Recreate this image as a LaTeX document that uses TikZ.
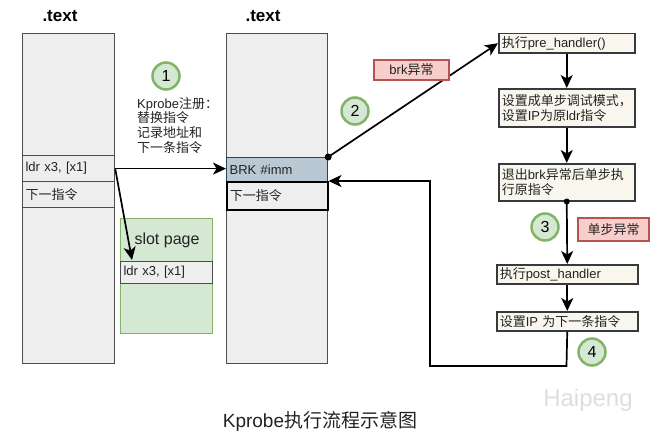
\documentclass[tikz,border=0pt]{standalone}
\usepackage{fontspec}
\setmainfont{Liberation Sans}
\newfontfamily\cjk{Noto Sans CJK SC}
\usetikzlibrary{arrows.meta}
\newcommand\zh[1]{{\cjk #1}}
\definecolor{colfill}{HTML}{EEEEEE}
\definecolor{colstroke}{HTML}{4D4D4D}
\definecolor{grnfill}{HTML}{D5E8D4}
\definecolor{grnstroke}{HTML}{82B366}
\definecolor{redfill}{HTML}{F8CECC}
\definecolor{redstroke}{HTML}{B85450}
\definecolor{brkfill}{HTML}{BAC8D3}
\definecolor{brkstroke}{HTML}{23445D}
\definecolor{boxfill}{HTML}{F9F7ED}
\definecolor{boxstroke}{HTML}{36393D}
\definecolor{textc}{HTML}{222222}
\begin{document}
\begin{tikzpicture}[x=1pt,y=-1pt,
  small/.style={font=\fontsize{13}{14.7}\selectfont, text=textc},
  col/.style={draw=colstroke, fill=colfill, line width=1.2pt, anchor=north west, inner sep=0pt},
  cell/.style={col, align=left, inner xsep=3pt, inner ysep=0pt, small},
  rbox/.style={draw=boxstroke, fill=boxfill, line width=1.5pt, anchor=north west, align=left, inner xsep=3pt, inner ysep=0pt, small},
  tag/.style={draw=redstroke, fill=redfill, line width=1.2pt, inner sep=0pt, small},
  num/.style={circle, draw=grnstroke, fill=grnfill, line width=2.5pt, minimum size=27pt, inner sep=0pt, font=\fontsize{16}{18}\selectfont},
  arr/.style={line width=1.7pt, -{Stealth[length=13pt,width=12pt,inset=3.5pt]}},
  ttl/.style={font=\bfseries\fontsize{17}{20}\selectfont}
]
\useasboundingbox (0,0) rectangle (668,436);

% column titles
\node[ttl] (t1) at (60,16) {.text};
\node[ttl] (t2) at (263,16) {.text};

% left column
\node[col, minimum width=92pt, minimum height=330pt] (lcol) at (22,33) {};
\node[cell, minimum height=26pt, text width=86pt] (lldr) at (22,155) {ldr x3, [x1]};
\node[cell, minimum height=26pt, text width=86pt] (lnext) at (22,181) {\zh{下一指令}};

% middle column
\node[col, minimum width=101pt, minimum height=330pt] (mcol) at (226,33) {};
\node[cell, draw=brkstroke, fill=brkfill, minimum height=24pt, text width=95pt] (mbrk) at (226,157) {BRK \#imm};
\node[cell, draw=black, line width=1.5pt, minimum height=28pt, text width=95pt] (mnext) at (226,181) {\zh{下一指令}};

% slot page
\node[draw=grnstroke, fill=grnfill, line width=1.2pt, anchor=north west, minimum width=92pt, minimum height=115pt, inner sep=0pt] (slot) at (120,218) {};
\node[font=\fontsize{16}{18}\selectfont, text=textc] (slottxt) at (167,240) {slot page};
\node[cell, minimum height=22pt, text width=86pt] (sldr) at (120,261) {ldr x3, [x1]};

% step 1
\node[num] (n1) at (166,76) {1};
\node[small, anchor=north west, align=left, inner sep=0pt] (reg) at (137,97) {Kprobe\zh{注册：}\\\zh{替换指令}\\\zh{记录地址和}\\\zh{下一条指令}};

\coordinate (stip) at (132,260);
\draw[arr] (lldr.east) -- (lldr.east -| mbrk.west);
\draw[arr] (lldr.east) -- (stip);

% right flow
\node[rbox, minimum height=19pt, text width=130pt] (b1) at (498,33) {\zh{执行}pre\_handler()};
\node[rbox, minimum height=38pt, text width=130pt] (b2) at (498,88) {\zh{设置成单步调试模式，}\\\zh{设置}IP\zh{为原}ldr\zh{指令}};
\node[rbox, minimum height=37pt, text width=130pt] (b3) at (498,163) {\zh{退出}brk\zh{异常后单步执}\\\zh{行原指令}};
\node[rbox, minimum height=19pt, text width=135pt] (b4) at (496,264) {\zh{执行}post\_handler};
\node[rbox, minimum height=19pt, text width=135pt] (b5) at (496,311) {\zh{设置}IP \zh{为下一条指令}};

\draw[arr] (b1.south) -- (b2.north);
\draw[arr] (b2.south) -- (b3.north);
\draw[arr] (b4.south) -- (b5.north);

% step 2
\fill (mbrk.north east) circle (3.5pt);
\draw[arr] (mbrk.north east) -- (b1.west);
\node[tag, minimum width=75pt, minimum height=20pt] (brk) at (411.5,70) {brk\zh{异常}};
\node[num] (n2) at (355,111) {2};

% step 3
\fill (b3.south) circle (3pt);
\draw[arr] (b3.south) -- (b4.north);
\node[num] (n3) at (545,227) {3};
\node[tag, minimum width=71pt, minimum height=23pt] (ss) at (613.5,229.5) {\zh{单步异常}};

% step 4
\coordinate (r1) at (566.5,366);
\coordinate (r2) at (430,366);
\coordinate (r3) at (430,181);
\draw[arr] (b5.south) -- (r1) -- (r2) -- (r3) -- (mnext.north east);
\node[num] (n4) at (592,352) {4};

% watermark and caption
\node[font=\fontsize{24}{26}\selectfont, text=black!13] (wm) at (588,400) {Haipeng};
\node[font=\fontsize{19}{22}\selectfont, text=textc] (cap) at (320,421) {Kprobe\zh{执行流程示意图}};
\end{tikzpicture}
\end{document}
